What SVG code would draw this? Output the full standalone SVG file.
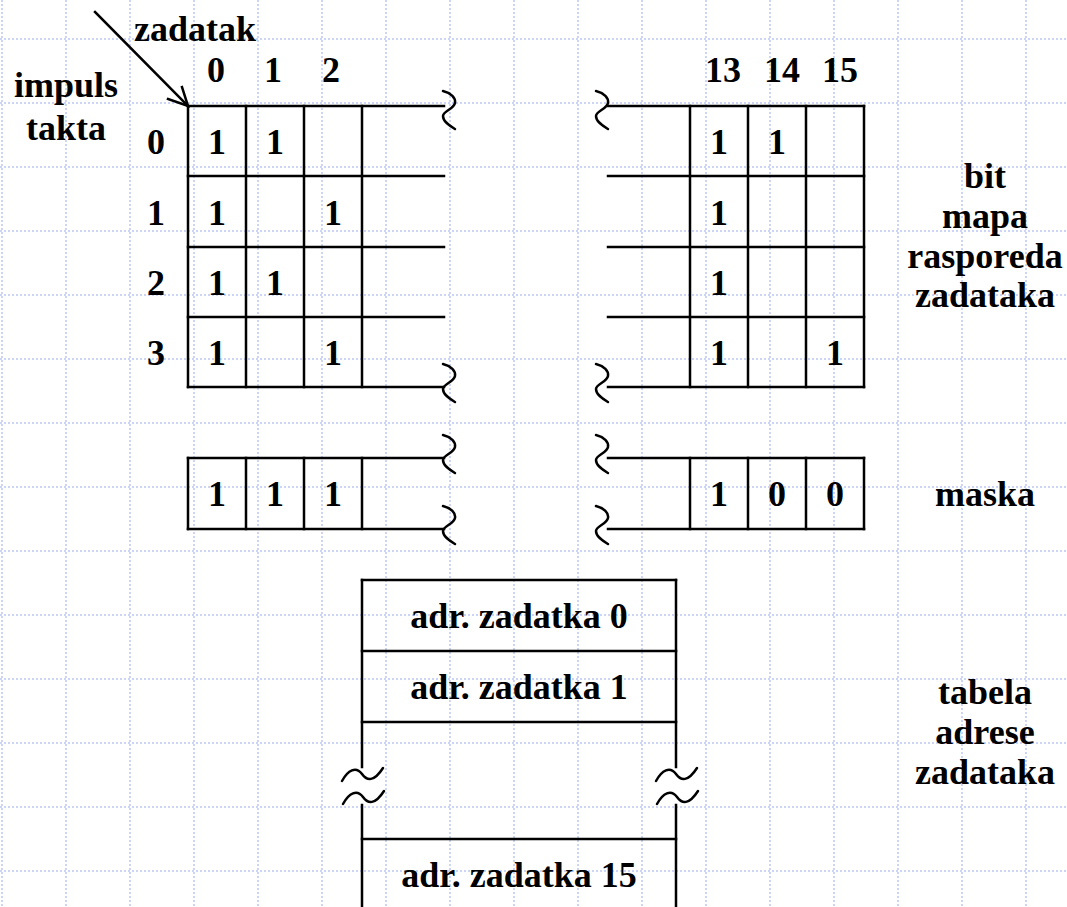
<svg xmlns="http://www.w3.org/2000/svg" xmlns:xlink="http://www.w3.org/1999/xlink" width="1067" height="907" viewBox="0 0 1067 907">
<style>
.bg{stroke:#bcc8f2;stroke-width:1.5;stroke-dasharray:2 2;fill:none}
.ln{stroke:#000;stroke-width:2.5;fill:none;stroke-linecap:square}
.sq{stroke:#000;stroke-width:2.5;fill:none;stroke-linecap:round}
.t{font-family:'Liberation Serif','Times New Roman',serif;font-weight:700;font-size:36px;fill:#000;text-anchor:middle}
</style>
<defs>
<path id="sq" class="sq" d="M0,0 C8,2 13,7 12,12 C11,18 0,20 0,25 C0,31 7,35 12,38"/>
<path id="tl" class="sq" d="M0,13 C6,2 14,-2 20,6 C25,13 32,14 41,0"/>
</defs>
<rect width="1067" height="907" fill="#fff"/>
<g id="background-grid">
<path class="bg" d="M2,0V907M66,0V907M130,0V907M194,0V907M258,0V907M322,0V907M386,0V907M450,0V907M514,0V907M578,0V907M642,0V907M706,0V907M770,0V907M834,0V907M898,0V907M962,0V907M1026,0V907"/>
<path class="bg" d="M0,39H1067M0,103H1067M0,167H1067M0,231H1067M0,295H1067M0,359H1067M0,423H1067M0,487H1067M0,551H1067M0,615H1067M0,679H1067M0,743H1067M0,807H1067M0,871H1067"/>
</g>
<g id="labels" class="t">
<text x="195" y="41">zadatak</text>
<text x="66" y="97">impuls</text>
<text x="66" y="140">takta</text>
<text x="985" y="188">bit</text>
<text x="985" y="228">mapa</text>
<text x="985" y="268">rasporeda</text>
<text x="985" y="307">zadataka</text>
<text x="985" y="506">maska</text>
<text x="985" y="704">tabela</text>
<text x="985" y="744">adrese</text>
<text x="985" y="784">zadataka</text>
</g>
<g id="bitmap">
<path class="ln" d="M188,106H444M188,176H444M188,247H444M188,317H444M188,387H444M608,106H864M608,176H864M608,247H864M608,317H864M608,387H864"/>
<path class="ln" d="M188,106V387M246,106V387M304,106V387M362,106V387M690,106V387M748,106V387M806,106V387M864,106V387"/>
<use href="#sq" x="443" y="91"/>
<use href="#sq" x="596" y="91"/>
<use href="#sq" x="443" y="364"/>
<use href="#sq" x="596" y="364"/>
<g class="t">
<text x="216" y="82">0</text>
<text x="273" y="82">1</text>
<text x="331" y="82">2</text>
<text x="723" y="82">13</text>
<text x="782" y="82">14</text>
<text x="840" y="82">15</text>
<text x="156" y="154">0</text>
<text x="156" y="225">1</text>
<text x="156" y="295">2</text>
<text x="156" y="365">3</text>
<text x="217" y="154">1</text><text x="275" y="154">1</text><text x="719" y="154">1</text><text x="777" y="154">1</text>
<text x="217" y="225">1</text><text x="333" y="225">1</text><text x="719" y="225">1</text>
<text x="217" y="295">1</text><text x="275" y="295">1</text><text x="719" y="295">1</text>
<text x="217" y="365">1</text><text x="333" y="365">1</text><text x="719" y="365">1</text><text x="835" y="365">1</text>
</g>
</g>
<g id="mask">
<path class="ln" d="M188,458H444M188,529H444M608,458H864M608,529H864"/>
<path class="ln" d="M188,458V529M246,458V529M304,458V529M362,458V529M690,458V529M748,458V529M806,458V529M864,458V529"/>
<use href="#sq" x="443" y="435"/>
<use href="#sq" x="596" y="435"/>
<use href="#sq" x="443" y="506"/>
<use href="#sq" x="596" y="506"/>
<g class="t">
<text x="217" y="506">1</text><text x="275" y="506">1</text><text x="333" y="506">1</text>
<text x="719" y="506">1</text><text x="777" y="506">0</text><text x="835" y="506">0</text>
</g>
</g>
<g id="address-table">
<path class="ln" d="M362,580H676M362,651H676M362,722H676M362,839H676"/>
<path class="ln" d="M362,580V767M362,805V910M676,580V767M676,805V910"/>
<use href="#tl" x="342" y="768"/>
<use href="#tl" x="343" y="791"/>
<use href="#tl" x="656" y="768"/>
<use href="#tl" x="657" y="791"/>
<g class="t">
<text x="519" y="628">adr. zadatka 0</text>
<text x="519" y="699">adr. zadatka 1</text>
<text x="519" y="887">adr. zadatka 15</text>
</g>
</g>
<g id="connectors">
<path class="ln" d="M95,12L187,105" stroke-linecap="butt"/>
<path class="ln" d="M168,99L188,106L182,87" stroke-linecap="butt" stroke-linejoin="miter"/>
</g>
</svg>
